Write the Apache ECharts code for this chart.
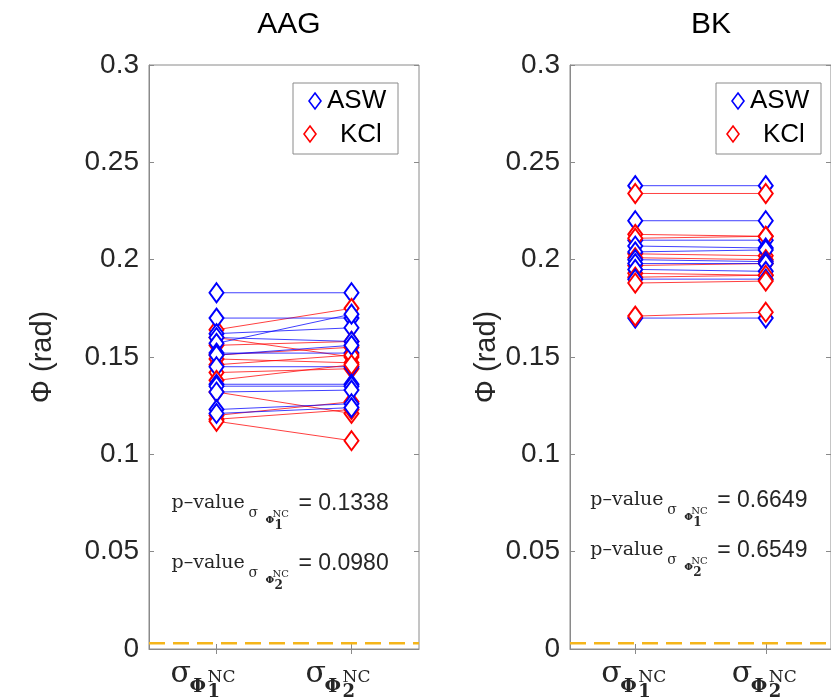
<!DOCTYPE html>
<html>
<head>
<meta charset="utf-8">
<script src="https://cdn.jsdelivr.net/npm/echarts@6/dist/echarts.min.js"></script>
<style>
  html, body { margin: 0; padding: 0; background: #ffffff; }
  #chart { width: 831px; height: 700px; }
</style>
</head>
<body>
<div id="chart"></div>
<script>
// ---- data ----
const categories = ['sigma1', 'sigma2'];
const categorySubscripts = ['1', '2'];
const panelTitles = ['AAG', 'BK'];
const groupNames = ['ASW', 'KCl'];
const yTickValues = [0, 0.05, 0.1, 0.15, 0.2, 0.25, 0.3];

// AAG: per-sample phase values for the two noise-corrected estimates
const aagAswFirst  = [0.183, 0.170, 0.162, 0.160, 0.157, 0.152, 0.151, 0.145, 0.136, 0.135, 0.132, 0.123, 0.121];
const aagAswSecond = [0.183, 0.170, 0.165, 0.158, 0.172, 0.152, 0.156, 0.145, 0.136, 0.135, 0.133, 0.126, 0.124];
const aagKclFirst  = [0.164, 0.160, 0.156, 0.151, 0.149, 0.146, 0.142, 0.138, 0.132, 0.120, 0.118, 0.117];
const aagKclSecond = [0.175, 0.150, 0.158, 0.155, 0.147, 0.151, 0.144, 0.146, 0.121, 0.127, 0.123, 0.107];

// BK
const bkAswFirst  = [0.238, 0.220, 0.210, 0.207, 0.204, 0.200, 0.198, 0.195, 0.190, 0.170];
const bkAswSecond = [0.238, 0.220, 0.210, 0.206, 0.205, 0.199, 0.198, 0.194, 0.190, 0.170];
const bkKclFirst  = [0.234, 0.213, 0.211, 0.203, 0.201, 0.197, 0.193, 0.191, 0.188, 0.171];
const bkKclSecond = [0.234, 0.212, 0.212, 0.202, 0.200, 0.198, 0.192, 0.192, 0.189, 0.173];

const pValuesAAG = ['0.1338', '0.0980'];
const pValuesBK  = ['0.6649', '0.6549'];
const thresholdLevel = 0.003;

// ---- styling / layout ----
const BLUE = '#0000ff';
const RED = '#ff0000';
const AXIS_GRAY = '#8a8a8a';
const TEXT_DARK = '#262626';
const SANS = '"Liberation Sans", Arial, Helvetica, sans-serif';
const SERIF = '"DejaVu Serif", "Liberation Serif", serif';

const panels = [
  { left: 149, width: 270, asw: [aagAswFirst, aagAswSecond], kcl: [aagKclFirst, aagKclSecond],
    pv: pValuesAAG, pvLevels: [0.0724, 0.0416], labelShift: -13, nameGap: 92 },
  { left: 570, width: 272, asw: [bkAswFirst, bkAswSecond], kcl: [bkKclFirst, bkKclSecond],
    pv: pValuesBK, pvLevels: [0.074, 0.0483], labelShift: -1, nameGap: 62 }
];
const GRID_TOP = 65;
const GRID_HEIGHT = 584;

const chart = echarts.init(document.getElementById('chart'), null, { renderer: 'canvas' });

const grids = [], xAxes = [], yAxes = [], series = [], titles = [];

panels.forEach((p, gi) => {
  grids.push({ left: p.left, top: GRID_TOP, width: p.width, height: GRID_HEIGHT,
    show: true, borderColor: AXIS_GRAY, borderWidth: 1, backgroundColor: 'transparent' });

  titles.push({ text: panelTitles[gi], left: p.left + p.width / 2, top: 5, textAlign: 'center',
    textStyle: { fontFamily: SANS, fontSize: 30, fontWeight: 'normal', color: '#000' } });

  const xBase = { type: 'category', data: categories, gridIndex: gi, boundaryGap: true,
    axisLabel: { show: false }, splitLine: { show: false } };
  xAxes.push(Object.assign({}, xBase, { position: 'bottom',
    axisLine: { show: true, lineStyle: { color: AXIS_GRAY, width: 1 } },
    axisTick: { show: true, alignWithLabel: true, inside: true, length: 5, lineStyle: { color: AXIS_GRAY } } }));
  xAxes.push(Object.assign({}, xBase, { position: 'top',
    axisLine: { show: false },
    axisTick: { show: true, alignWithLabel: true, inside: true, length: 5, lineStyle: { color: AXIS_GRAY } } }));

  const yBase = { type: 'value', gridIndex: gi, min: 0, max: 0.3, interval: 0.05, splitLine: { show: false } };
  yAxes.push(Object.assign({}, yBase, { position: 'left',
    name: 'Φ (rad)', nameLocation: 'middle', nameGap: p.nameGap, nameRotate: 90,
    nameTextStyle: { fontFamily: SANS, fontSize: 29, color: TEXT_DARK },
    axisLine: { show: true, lineStyle: { color: AXIS_GRAY, width: 1 } },
    axisTick: { show: true, inside: true, length: 5, lineStyle: { color: AXIS_GRAY } },
    axisLabel: { fontFamily: SANS, fontSize: 28, color: TEXT_DARK, margin: 10,
      formatter: v => String(+v.toFixed(2)) } }));
  yAxes.push(Object.assign({}, yBase, { position: 'right',
    axisLine: { show: false },
    axisTick: { show: true, inside: true, length: 5, lineStyle: { color: AXIS_GRAY } },
    axisLabel: { show: false } }));

  const xi = gi * 2, yi = gi * 2;
  const pairSeries = (name, color, first, second, idx) => ({
    type: 'line', name: name, xAxisIndex: xi, yAxisIndex: yi,
    data: [first[idx], second[idx]],
    symbol: 'emptyDiamond', symbolSize: [14, 19], showSymbol: true,
    lineStyle: { color: color, width: 1, opacity: 0.75 },
    itemStyle: { color: color, borderColor: color, borderWidth: 1.7 },
    silent: true, animation: false, z: 3
  });
  const n = Math.max(p.asw[0].length, p.kcl[0].length);
  for (let i = 0; i < n; i++) {
    if (i < p.asw[0].length) series.push(pairSeries(groupNames[0], BLUE, p.asw[0], p.asw[1], i));
    if (i < p.kcl[0].length) series.push(pairSeries(groupNames[1], RED, p.kcl[0], p.kcl[1], i));
  }
});

chart.setOption({
  backgroundColor: '#ffffff',
  animation: false,
  title: titles,
  grid: grids,
  xAxis: xAxes,
  yAxis: yAxes,
  series: series
});

// ---- overlay: reference level, x tick labels, p-values, legends ----
function px(xAxisIndex, cat) { return chart.convertToPixel({ xAxisIndex: xAxisIndex }, cat); }
function py(yAxisIndex, v) { return chart.convertToPixel({ yAxisIndex: yAxisIndex }, v); }

// text placed by its alphabetic baseline (approximate: box bottom sits ~0.22em below it)
function textAt(str, x, baseline, size, family, weight, color) {
  return { type: 'text', x: x, y: baseline + 0.22 * size, z: 12,
    style: { text: str, font: `${weight || 'normal'} ${size}px ${family}`, fill: color || TEXT_DARK,
      verticalAlign: 'bottom', align: 'left' } };
}

const overlay = [];
panels.forEach((p, gi) => {
  const xi = gi * 2, yi = gi * 2;
  const x0 = px(xi, 0), x1 = px(xi, 1);

  // dashed reference level across the full panel width
  const ly0 = py(yi, thresholdLevel);
  overlay.push({ type: 'line', z: 5, silent: true,
    shape: { x1: p.left, y1: ly0, x2: p.left + p.width, y2: ly0 },
    style: { stroke: '#f5b51a', lineWidth: 2.5, lineDash: [16, 8] } });

  // category labels: σ with Φ subscript, NC superscript and index below
  [x0, x1].forEach((tx, k) => {
    const cx = tx + p.labelShift;
    overlay.push(textAt('σ', cx - 33, 683, 30, SERIF));
    overlay.push(textAt('Φ', cx - 14, 692, 19, SERIF, 'bold'));
    overlay.push(textAt('NC', cx + 4, 682, 17, SERIF));
    overlay.push(textAt(categorySubscripts[k], cx + 4, 697, 18, SERIF, 'bold'));
  });

  // p-value annotations
  p.pv.forEach((val, k) => {
    const bx = x0 - 45;
    const B = py(yi, p.pvLevels[k]);
    overlay.push(textAt('p–value', bx, B, 19, SERIF));
    overlay.push(textAt('σ', bx + 77, B + 9, 14, SERIF));
    overlay.push(textAt('Φ', bx + 94, B + 15, 10, SERIF, 'bold'));
    overlay.push(textAt('NC', bx + 101, B + 9, 10, SERIF));
    overlay.push(textAt(String(k + 1), bx + 103, B + 21, 12, SERIF, 'bold'));
    overlay.push(textAt('= ' + val, bx + 127, B + 2, 23, SANS));
  });

  // legend box
  const lx = p.left + p.width - 126, ly = 83;
  overlay.push({ type: 'rect', shape: { x: lx, y: ly, width: 105, height: 71 },
    style: { fill: '#ffffff', stroke: '#8a8a8a', lineWidth: 1 }, z: 10 });
  const diamond = (cx, cy, color) => ({ type: 'polygon', z: 11,
    shape: { points: [[cx, cy - 8], [cx + 6, cy], [cx, cy + 8], [cx - 6, cy]] },
    style: { fill: '#ffffff', stroke: color, lineWidth: 1.6 } });
  overlay.push(diamond(lx + 22, ly + 18, BLUE));
  overlay.push({ type: 'text', z: 11, x: lx + 34, y: ly + 18, style: { text: groupNames[0], font: `26px ${SANS}`, fill: '#000', verticalAlign: 'middle' } });
  overlay.push(diamond(lx + 17, ly + 51, RED));
  overlay.push({ type: 'text', z: 11, x: lx + 47, y: ly + 52, style: { text: groupNames[1], font: `26px ${SANS}`, fill: '#000', verticalAlign: 'middle' } });
});

chart.setOption({ graphic: { elements: overlay } });
</script>
</body>
</html>
